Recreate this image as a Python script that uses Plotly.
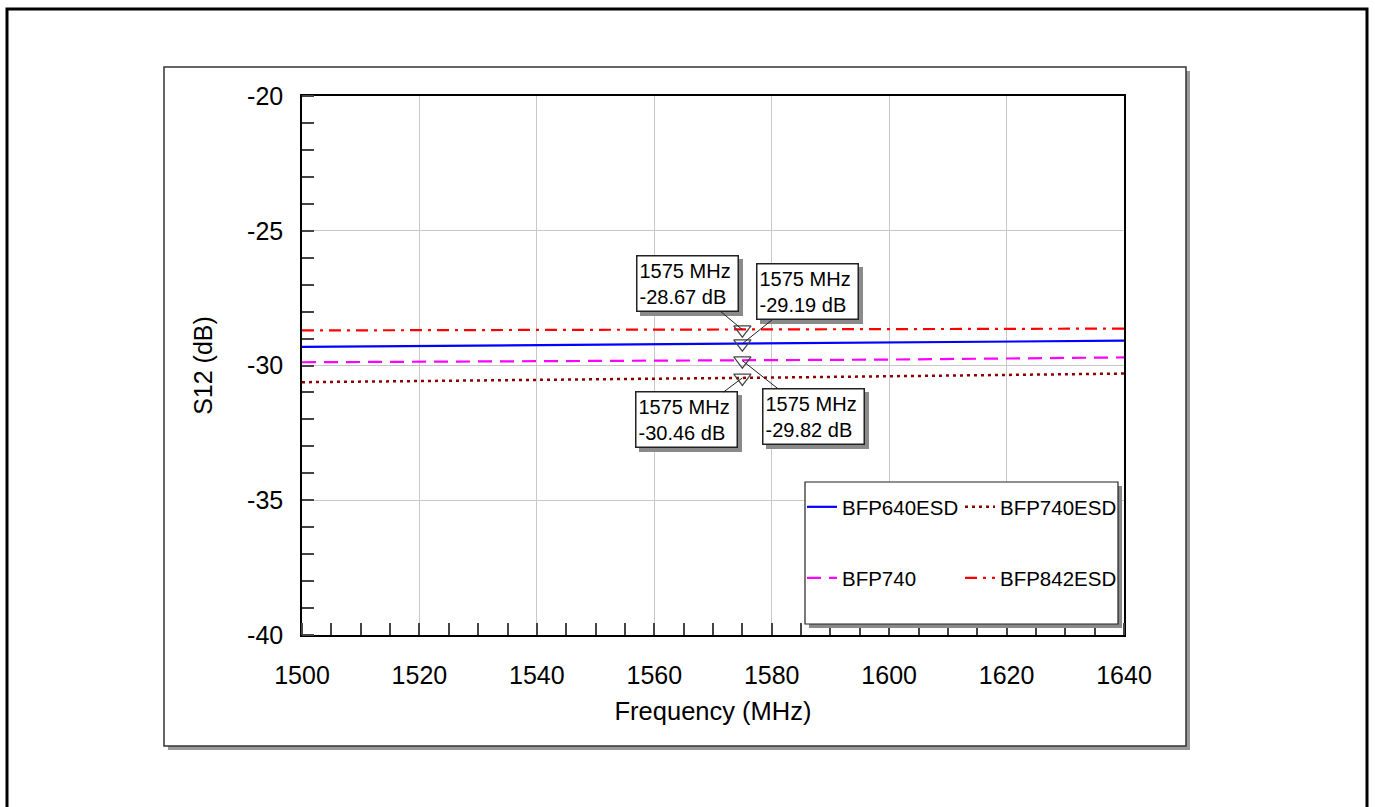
import plotly.graph_objects as go

# ---------------- data ----------------
freq = [1500, 1520, 1540, 1560, 1575, 1600, 1620, 1640]
bfp640esd = [-29.31, -29.28, -29.25, -29.22, -29.19, -29.15, -29.11, -29.08]
bfp740esd = [-30.62, -30.57, -30.52, -30.49, -30.46, -30.40, -30.34, -30.30]
bfp740 = [-29.88, -29.86, -29.84, -29.83, -29.82, -29.78, -29.74, -29.70]
bfp842esd = [-28.70, -28.69, -28.68, -28.68, -28.67, -28.66, -28.65, -28.63]

marker_freq = 1575
marker_vals = [-28.67, -29.19, -30.46, -29.82]
marker_labels = ["1575 MHz<br>-28.67 dB", "1575 MHz<br>-29.19 dB",
                 "1575 MHz<br>-30.46 dB", "1575 MHz<br>-29.82 dB"]
marker_offsets = [(-55, -46), (65, -52), (-56, 42), (71, 56)]

x_tickvals = [1500, 1520, 1540, 1560, 1580, 1600, 1620, 1640]
x_ticktext = ["1500", "1520", "1540", "1560", "1580", "1600", "1620", "1640"]
y_tickvals = [-40, -35, -30, -25, -20]
y_ticktext = ["-40", "-35", "-30", "-25", "-20"]

# ---------------- layout geometry ----------------
W, H = 1375, 807
L, R, T, B = 302, 1124, 96, 635
FONT = "Arial, Liberation Sans, sans-serif"


def px(x):
    return (x - L) / (R - L)


def py(y):
    return (B - y) / (B - T)


fig = go.Figure()

fig.add_trace(go.Scatter(x=freq, y=bfp640esd, mode="lines", name="BFP640ESD",
                         line=dict(color="#0000ff", width=2.2), legend="legend"))
fig.add_trace(go.Scatter(x=freq, y=bfp740esd, mode="lines", name="BFP740ESD",
                         line=dict(color="#8b0000", width=2.5, dash="3px,4px"), legend="legend"))
fig.add_trace(go.Scatter(x=freq, y=bfp740, mode="lines", name="BFP740",
                         line=dict(color="#ff00ff", width=2.2, dash="14px,8px"), legend="legend2"))
fig.add_trace(go.Scatter(x=freq, y=bfp842esd, mode="lines", name="BFP842ESD",
                         line=dict(color="#ff0000", width=2.2, dash="12px,6px,3px,6px"), legend="legend2"))

fig.add_trace(go.Scatter(x=[marker_freq] * len(marker_vals), y=marker_vals, mode="markers",
                         showlegend=False,
                         marker=dict(symbol="triangle-down-open", size=15,
                                     color="#444444", line=dict(width=1.2, color="#444444"))))

shapes = []
# outer border
shapes.append(dict(type="rect", xref="paper", yref="paper",
                   x0=px(7), x1=px(1367), y0=py(815), y1=py(9),
                   line=dict(color="black", width=3), fillcolor="white", layer="below"))
# panel shadow
shapes.append(dict(type="rect", xref="paper", yref="paper",
                   x0=px(168), x1=px(1190), y0=py(750), y1=py(71),
                   line=dict(width=0), fillcolor="#9a9a9a", layer="below"))
# panel
shapes.append(dict(type="rect", xref="paper", yref="paper",
                   x0=px(164), x1=px(1186), y0=py(746), y1=py(67),
                   line=dict(color="#333333", width=1.5), fillcolor="white", layer="below"))
# legend shadow + box
shapes.append(dict(type="rect", xref="paper", yref="paper",
                   x0=px(809), x1=px(1122), y0=py(628), y1=py(486),
                   line=dict(width=0), fillcolor="#8a8a8a", layer="above"))
shapes.append(dict(type="rect", xref="paper", yref="paper",
                   x0=px(805), x1=px(1118), y0=py(624), y1=py(482),
                   line=dict(color="#222222", width=1.2), fillcolor="white", layer="above"))

BOX_W, BOX_H = 96, 50
annotations = []
for v, lab, (ax, ay) in zip(marker_vals, marker_labels, marker_offsets):
    # shadow box (no text)
    annotations.append(dict(x=marker_freq, y=v, xref="x", yref="y", ax=ax + 4, ay=ay + 4,
                            text=" ", showarrow=True, arrowcolor="rgba(0,0,0,0)", arrowwidth=0.1,
                            arrowhead=0, width=BOX_W, height=BOX_H,
                            font=dict(family=FONT, size=20, color="#8a8a8a"),
                            bgcolor="#8a8a8a", bordercolor="#8a8a8a", borderwidth=1.5,
                            borderpad=2))
    annotations.append(dict(x=marker_freq, y=v, xref="x", yref="y", ax=ax, ay=ay,
                            text=lab, showarrow=True, arrowcolor="#222222", arrowwidth=1,
                            arrowhead=0, width=BOX_W, height=BOX_H,
                            font=dict(family=FONT, size=20, color="black"),
                            bgcolor="white", bordercolor="#222222", borderwidth=1.5,
                            borderpad=2, align="left"))

fig.update_layout(
    width=W, height=H,
    margin=dict(l=L, r=W - R, t=T, b=H - B),
    paper_bgcolor="white", plot_bgcolor="rgba(0,0,0,0)",
    font=dict(family=FONT, size=22, color="black"),
    shapes=shapes, annotations=annotations,
    legend=dict(orientation="h", x=px(802), y=py(507), xanchor="left", yanchor="middle",
                bgcolor="rgba(0,0,0,0)", borderwidth=0, entrywidth=113,
                font=dict(family=FONT, size=20.5, color="black"), itemclick=False),
    legend2=dict(orientation="h", x=px(802), y=py(578), xanchor="left", yanchor="middle",
                 bgcolor="rgba(0,0,0,0)", borderwidth=0, entrywidth=113,
                 font=dict(family=FONT, size=20.5, color="black"), itemclick=False),
    xaxis=dict(range=[1500, 1640], tickvals=x_tickvals, ticktext=x_ticktext,
               showgrid=True, gridcolor="#c8c8c8",
               gridwidth=1, zeroline=False, showline=True, linecolor="black", linewidth=1.5,
               mirror=True, ticks="", ticklabelstandoff=17, tickfont=dict(family=FONT, size=25),
               title=dict(text="Frequency (MHz)", font=dict(family=FONT, size=25.5), standoff=14),
               minor=dict(ticks="inside", ticklen=12, tickcolor="#444444", tickwidth=2,
                          dtick=5, showgrid=False)),
    yaxis=dict(range=[-40, -20], tickvals=y_tickvals, ticktext=y_ticktext,
               showgrid=True, gridcolor="#c8c8c8",
               gridwidth=1, zeroline=False, showline=True, linecolor="black", linewidth=1.5,
               mirror=True, ticks="", ticklabelstandoff=12, tickfont=dict(family=FONT, size=25),
               title=dict(text="S12 (dB)", font=dict(family=FONT, size=25), standoff=27),
               minor=dict(ticks="inside", ticklen=12, tickcolor="#444444", tickwidth=2,
                          dtick=1, showgrid=False)),
)

fig.write_html("out.html")
